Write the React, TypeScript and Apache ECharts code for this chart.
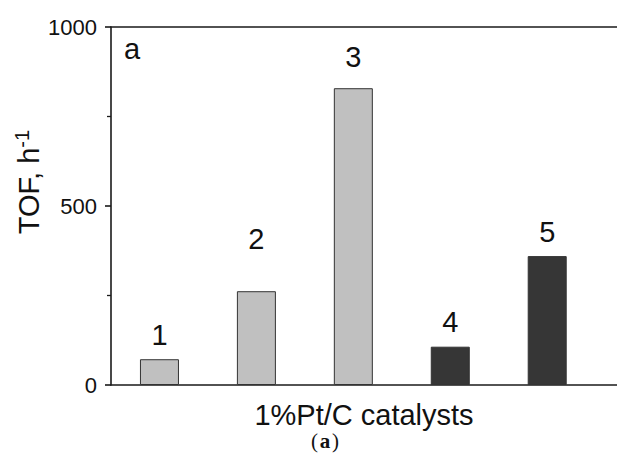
import React, { useEffect, useRef } from "react";
import * as echarts from "echarts";

const categories = ["1", "2", "3", "4", "5"];
const positions = [1, 2, 3, 4, 5];
const tofValues = [72, 262, 829, 107, 360];
const barColors = ["#c0c0c0", "#c0c0c0", "#c0c0c0", "#363636", "#363636"];
const labelDistances = [10, 38, 17, 10, 10];
const yTicks = [0, 500, 1000];

export default function App() {
  const ref = useRef<HTMLDivElement>(null);
  useEffect(() => {
    if (!ref.current) return;
    const chart = echarts.init(ref.current, undefined, { renderer: "svg" });
    const font = "Liberation Sans, Arial, sans-serif";
    const serif = "Liberation Serif, Times New Roman, serif";
    const axisColor = "#1a1a1a";
    chart.setOption({
      animation: false,
      backgroundColor: "#fff",
      grid: { left: 111, right: 0, top: 27, bottom: 75, containLabel: false },
      xAxis: [
        {
          type: "value",
          position: "bottom",
          min: 0.5,
          max: 5.72,
          axisLine: { show: true, lineStyle: { color: axisColor, width: 1.6 } },
          axisTick: { show: false },
          axisLabel: { show: false },
          splitLine: { show: false },
          name: "1%Pt/C catalysts",
          nameLocation: "middle",
          nameGap: 18,
          nameTextStyle: { fontFamily: font, fontSize: 29, lineHeight: 24, color: "#111" },
        },
        {
          type: "value",
          position: "top",
          min: 0.5,
          max: 5.72,
          axisLine: { show: true, lineStyle: { color: axisColor, width: 1.6 } },
          axisTick: { show: false },
          axisLabel: { show: false },
          splitLine: { show: false },
        },
      ],
      yAxis: {
        type: "value",
        min: yTicks[0],
        max: yTicks[yTicks.length - 1],
        interval: yTicks[1] - yTicks[0],
        axisLine: { show: true, lineStyle: { color: axisColor, width: 1.6 } },
        axisTick: { show: true, inside: false, length: 6, lineStyle: { color: axisColor, width: 1.6 } },
        minorTick: { show: true, splitNumber: 2, length: 4, lineStyle: { color: axisColor, width: 1.3 } },
        axisLabel: {
          margin: 14,
          fontFamily: font,
          fontSize: 22,
          color: "#111",
          formatter: (v: number) => String(v),
        },
        splitLine: { show: false },
      },
      series: [
        {
          type: "bar",
          xAxisIndex: 0,
          barWidth: 39,
          data: positions.map((p, i) => ({
            value: [p, tofValues[i]],
            itemStyle: { color: barColors[i], borderColor: "#333", borderWidth: 1 },
            label: { distance: labelDistances[i] },
          })),
          label: {
            show: true,
            position: "top",
            fontFamily: font,
            fontSize: 29,
            color: "#111",
            formatter: (p: any) => categories[p.dataIndex],
          },
        },
      ],
      graphic: [
        {
          type: "text",
          x: 29,
          y: 182,
          rotation: Math.PI / 2,
          style: {
            text: "TOF, h{sup|-1}",
            fontFamily: font,
            fontSize: 29,
            fill: "#111",
            align: "center",
            verticalAlign: "middle",
            rich: {
              sup: { fontFamily: font, fontSize: 20, verticalAlign: "top", padding: [0, 0, 14, 0], fill: "#111" },
            },
          },
        },
        {
          type: "text",
          x: 124,
          y: 34,
          style: { text: "a", fontFamily: font, fontSize: 29, fill: "#111" },
        },
        {
          type: "text",
          x: 318,
          y: 441,
          style: {
            text: "(",
            font: "21px " + serif,
            fill: "#111",
            align: "right",
            verticalAlign: "middle",
          },
        },
        {
          type: "text",
          x: 325,
          y: 441,
          style: {
            text: "a",
            font: "bold 21px " + serif,
            fill: "#111",
            align: "center",
            verticalAlign: "middle",
          },
        },
        {
          type: "text",
          x: 332,
          y: 441,
          style: {
            text: ")",
            font: "21px " + serif,
            fill: "#111",
            align: "left",
            verticalAlign: "middle",
          },
        },
      ],
    });
    return () => chart.dispose();
  }, []);
  return (
    <div
      ref={ref}
      style={{ position: "absolute", left: 0, top: 0, width: 617, height: 460 }}
    />
  );
}
